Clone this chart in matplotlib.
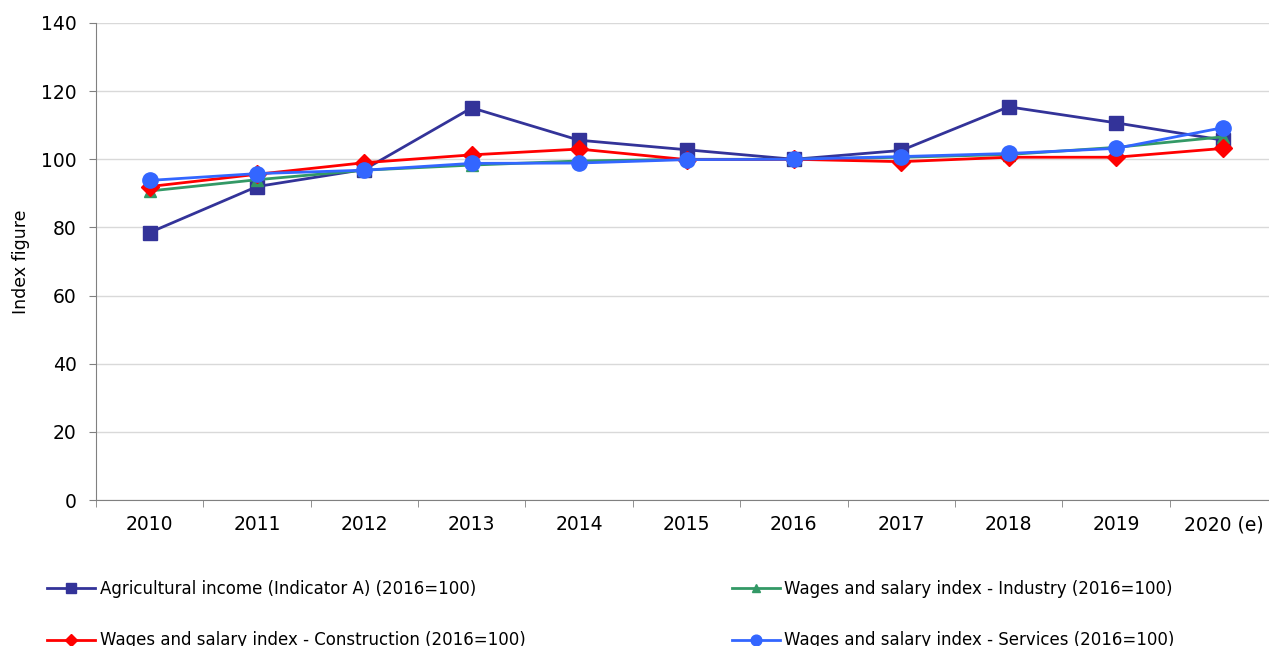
import matplotlib
matplotlib.use("Agg")
import matplotlib.pyplot as plt

years = ["2010", "2011", "2012", "2013", "2014", "2015", "2016", "2017", "2018", "2019", "2020 (e)"]
agri = [78.5, 92.0, 97.0, 115.1, 105.6, 102.8, 100.0, 102.6, 115.4, 110.7, 105.6]
industry = [90.7, 94.0, 96.8, 98.3, 99.5, 100.0, 100.0, 100.6, 101.4, 103.5, 106.6]
construction = [92.0, 95.6, 99.0, 101.3, 103.0, 99.9, 100.0, 99.3, 100.6, 100.6, 103.2]
services = [93.8, 95.8, 96.8, 98.8, 98.9, 99.9, 100.0, 100.8, 101.7, 103.2, 109.3]
labels = ["Agricultural income (Indicator A) (2016=100)",
          "Wages and salary index - Industry (2016=100)",
          "Wages and salary index - Construction (2016=100)",
          "Wages and salary index - Services (2016=100)"]
yticks = [0, 20, 40, 60, 80, 100, 120, 140]

plt.rcParams['font.family'] = ['DejaVu Sans']
fig = plt.figure(figsize=(12.69, 6.46), dpi=100)
ax = fig.add_axes([96/1269, 146/646, (1277-96)/1269, 477/646])

x = list(range(len(years)))
h1, = ax.plot(x, agri, color="#333399", marker="s", ms=10.5, lw=2, label=labels[0], zorder=3)
h2, = ax.plot(x, industry, color="#339966", marker="^", ms=8.5, lw=2, label=labels[1], zorder=4)
h3, = ax.plot(x, construction, color="#FF0000", marker="D", ms=9, lw=2, label=labels[2], zorder=5)
h4, = ax.plot(x, services, color="#3366FF", marker="o", ms=11, lw=2, label=labels[3], zorder=6)

ax.set_xlim(-0.5, len(years) - 0.5)
ax.set_ylim(0, 140)
ax.set_yticks(yticks)
ax.set_xticks(x)
ax.set_xticklabels(years)
ax.set_xticks([i + 0.5 for i in range(-1, len(years))], minor=True)
ax.tick_params(axis="x", which="major", length=0, pad=11, labelsize=13.5)
ax.tick_params(axis="x", which="minor", length=5, color="#808080")
ax.tick_params(axis="y", length=5, color="#808080", labelsize=13.5, pad=9)
ax.yaxis.grid(True, color="#d9d9d9", lw=1)
ax.set_axisbelow(True)
for s in ["top", "right"]:
    ax.spines[s].set_visible(False)
for s in ["left", "bottom"]:
    ax.spines[s].set_color("#808080")
ax.set_ylabel("Index figure", fontsize=12.5, labelpad=8)

fig.legend(handles=[h1, h3, h2, h4], loc="upper left", bbox_to_anchor=(47/1269, 1 - 580/646),
           ncol=2, frameon=False, fontsize=12, handlelength=2.9, handletextpad=0.25,
           columnspacing=12.4, labelspacing=2.0, borderpad=0, borderaxespad=0,
           markerscale=0.7)

fig.savefig("out.png", dpi=100)
